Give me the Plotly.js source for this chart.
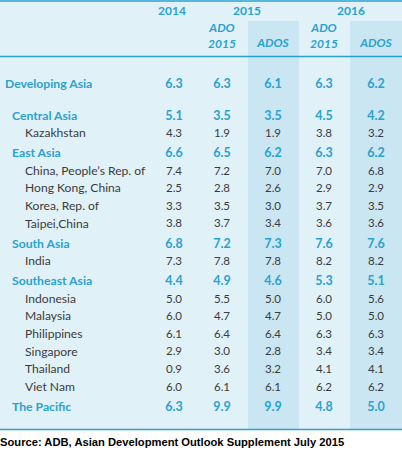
<!DOCTYPE html>
<html><head><meta charset="utf-8">
<script src="https://cdn.plot.ly/plotly-3.0.1.min.js"></script>
<style>html,body{margin:0;padding:0;background:#fff;}#chart{width:402px;height:462px;}</style>
</head><body><div id="chart"></div>
<script>
// ---- data ----
const labels = ["Developing Asia","Central Asia","Kazakhstan","East Asia","China, People\u2019s Rep. of","Hong Kong, China","Korea, Rep. of","Taipei,China","South Asia","India","Southeast Asia","Indonesia","Malaysia","Philippines","Singapore","Thailand","Viet Nam","The Pacific"];
const levels = [0,1,2,1,2,2,2,2,1,2,1,2,2,2,2,2,2,1];
const v2014     = [6.3,5.1,4.3,6.6,7.4,2.5,3.3,3.8,6.8,7.3,4.4,5.0,6.0,6.1,2.9,0.9,6.0,6.3];
const ado2015   = [6.3,3.5,1.9,6.5,7.2,2.8,3.5,3.7,7.2,7.8,4.9,5.5,4.7,6.4,3.0,3.6,6.1,9.9];
const ados2015  = [6.1,3.5,1.9,6.2,7.0,2.6,3.0,3.4,7.3,7.8,4.6,5.0,4.7,6.4,2.8,3.2,6.1,9.9];
const ado2016   = [6.3,4.5,3.8,6.3,7.0,2.9,3.7,3.6,7.6,8.2,5.3,6.0,5.0,6.3,3.4,4.1,6.2,4.8];
const ados2016  = [6.2,4.2,3.2,6.2,6.8,2.9,3.5,3.6,7.6,8.2,5.1,5.6,5.0,6.3,3.4,4.1,6.2,5.0];
const yearLabels = ["2014","2015","2016"];
const subLabels = ["ADO<br>2015","ADOS","ADO<br>2015","ADOS"];
const source = "Source: ADB, Asian Development Outlook Supplement July 2015";

// ---- layout config ----
const W = 402, H = 462;
const colX = [174, 222, 273, 324, 376];
const yearX = [172, 247, 351];
const shadeCols = [[248, 299], [350, 402]];
const teal = "#29a2d0", dark = "#3b3b3b", bg = "#e1f1f8", shade = "#c9e6f2";
const F = "Lato, 'Open Sans', sans-serif";

// row positions
const rowY = [];
let y = 85;
levels.forEach((lv, i) => {
  if (i === 0) { rowY.push(y); return; }
  if (i === 1) y += 31.5;
  else y += 17.6 + (lv === 1 ? 2.4 : 0);
  rowY.push(y);
});

const series = [v2014, ado2015, ados2015, ado2016, ados2016];
const traces = [];
const isHead = levels.map(l => l < 2);
const labX = levels.map(l => l === 0 ? 5 : (l === 1 ? 12 : 25));
[true, false].forEach(head => {
  const idx = labels.map((_, i) => i).filter(i => isHead[i] === head);
  traces.push({
    type: "scatter", mode: "text", hoverinfo: "skip",
    x: idx.map(i => labX[i]), y: idx.map(i => rowY[i]),
    text: idx.map(i => labels[i]), textposition: "middle right",
    textfont: {family: F, size: head ? 12.2 : 12.1, color: head ? teal : dark, weight: head ? 700 : 400}
  });
  series.forEach((s, c) => {
    traces.push({
      type: "scatter", mode: "text", hoverinfo: "skip",
      x: idx.map(() => colX[c]), y: idx.map(i => rowY[i]),
      text: idx.map(i => s[i].toFixed(1)), textposition: "middle center",
      textfont: {family: F, size: head ? 12.5 : 11.5, color: head ? teal : dark, weight: head ? 700 : 400}
    });
  });
});
// header traces
traces.push({type: "scatter", mode: "text", hoverinfo: "skip",
  x: yearX, y: [12, 12, 12], text: yearLabels, textposition: "middle center",
  textfont: {family: F, size: 12, color: teal, weight: 700}});
traces.push({type: "scatter", mode: "text", hoverinfo: "skip",
  x: colX.slice(1), y: [37, 44, 37, 44], text: subLabels, textposition: "middle center",
  textfont: {family: F, size: 12, color: teal, weight: 700, style: "italic"}});
traces.push({type: "scatter", mode: "text", hoverinfo: "skip",
  x: [0], y: [443], text: [source], textposition: "middle right",
  textfont: {family: "'Liberation Sans', Arial, sans-serif", size: 11.2, color: "#000", weight: 700}});

const shapes = [
  {type: "rect", xref: "x", yref: "y", x0: 0, x1: W, y0: 0, y1: 429, fillcolor: bg, line: {width: 0}, layer: "below"},
  ...shadeCols.map(c => ({type: "rect", xref: "x", yref: "y", x0: c[0], x1: c[1], y0: 21, y1: 429, fillcolor: shade, line: {width: 0}, layer: "below"})),
  {type: "line", x0: 0, x1: W, y0: 1, y1: 1, line: {color: teal, width: 1.5}},
  {type: "line", x0: 0, x1: W, y0: 56.5, y1: 56.5, line: {color: teal, width: 1.5}},
  {type: "line", x0: 0, x1: W, y0: 429.5, y1: 429.5, line: {color: teal, width: 1.5}}
];

const layout = {
  width: W, height: H, margin: {l: 0, r: 0, t: 0, b: 0},
  paper_bgcolor: "#fff", plot_bgcolor: "#fff", showlegend: false,
  xaxis: {range: [0, W], visible: false, fixedrange: true},
  yaxis: {range: [H, 0], visible: false, fixedrange: true},
  shapes: shapes
};
Plotly.newPlot("chart", traces, layout, {staticPlot: true, displayModeBar: false});
</script></body></html>
